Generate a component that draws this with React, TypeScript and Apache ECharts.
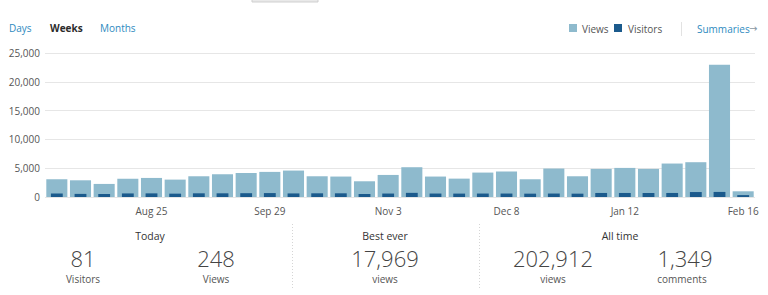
import React, { useEffect, useRef } from "react";
import * as echarts from "echarts";

const weeks = [
  "Jul 28", "Aug 4", "Aug 11", "Aug 18", "Aug 25", "Sep 1", "Sep 8", "Sep 15", "Sep 22", "Sep 29",
  "Oct 6", "Oct 13", "Oct 20", "Oct 27", "Nov 3", "Nov 10", "Nov 17", "Nov 24", "Dec 1", "Dec 8",
  "Dec 15", "Dec 22", "Dec 29", "Jan 5", "Jan 12", "Jan 19", "Jan 26", "Feb 2", "Feb 9", "Feb 16",
];
const views = [
  3080, 2900, 2270, 3190, 3310, 3020, 3600, 3950, 4180, 4360,
  4590, 3600, 3550, 2730, 3830, 5170, 3550, 3190, 4240, 4410,
  3080, 4940, 3600, 4880, 5050, 4880, 5810, 6040, 22950, 990,
];
const visitors = [
  620, 540, 520, 620, 630, 580, 640, 640, 660, 680,
  620, 640, 640, 520, 600, 720, 600, 590, 600, 600,
  580, 600, 580, 700, 700, 690, 700, 860, 880, 330,
];
const yTicks = { min: 0, max: 25000, interval: 5000 };
const periodTabs = ["Days", "Weeks", "Months"];
const statsToday = { title: "Today", visitors: "81", views: "248" };
const statsBest = { title: "Best ever", views: "17,969" };
const statsAll = { title: "All time", views: "202,912", comments: "1,349" };

const FONT = "'Open Sans', 'Noto Sans', sans-serif";
const LIGHT = "#8ebacd";
const DARK = "#1b5a8c";
const LINK = "#2e8ac0";
const TXT = "#555";

export default function App() {
  const ref = useRef<HTMLDivElement>(null);
  useEffect(() => {
    if (!ref.current) return;
    const chart = echarts.init(ref.current, null, { renderer: "svg" });
    const t = (text: string, x: number, y: number, size: number, color: string, extra: any = {}) => ({
      type: "text",
      x,
      y,
      style: {
        text,
        fontSize: size,
        fontFamily: extra.font || FONT,
        fill: color,
        textAlign: extra.align || "center",
        textVerticalAlign: "middle",
        fontWeight: extra.weight || "normal",
      },
    });
    chart.setOption({
      animation: false,
      grid: { left: 45, right: 13, top: 53, bottom: 98 },
      xAxis: [
        {
          type: "category",
          data: weeks,
          axisLine: { show: false },
          axisTick: { show: false },
          axisLabel: {
            interval: (i: number) => (i - 4) % 5 === 0,
            color: TXT,
            fontSize: 10,
            fontFamily: FONT,
            margin: 9,
          },
        },
        { type: "category", data: weeks, show: false },
      ],
      yAxis: {
        type: "value",
        min: yTicks.min,
        max: yTicks.max,
        interval: yTicks.interval,
        axisLine: { show: false },
        axisTick: { show: false },
        splitLine: { lineStyle: { color: "#e6e6e6", width: 1 } },
        axisLabel: {
          color: TXT,
          fontSize: 10,
          fontFamily: FONT,
          margin: 5,
          formatter: (v: number) => v.toLocaleString("en-US"),
        },
      },
      series: [
        {
          name: "Views",
          type: "bar",
          xAxisIndex: 0,
          data: views,
          barWidth: "89%",
          itemStyle: { color: LIGHT },
        },
        {
          name: "Visitors",
          type: "bar",
          xAxisIndex: 1,
          data: visitors,
          barWidth: "50%",
          itemStyle: { color: DARK },
          z: 3,
        },
      ],
      graphic: [
        { type: "rect", shape: { x: 252, y: -2, width: 66, height: 4 }, style: { fill: "#e9e9e9", stroke: "#cfcfcf", lineWidth: 1 } },
        t(periodTabs[0], 9, 28, 10, LINK, { align: "left" }),
        t(periodTabs[1], 50, 28, 10, "#2c2c2c", { align: "left", weight: "bold" }),
        t(periodTabs[2], 100, 28, 10, LINK, { align: "left" }),
        { type: "rect", shape: { x: 569, y: 24, width: 8, height: 8 }, style: { fill: LIGHT } },
        t("Views", 582, 28.5, 10, TXT, { align: "left" }),
        { type: "rect", shape: { x: 614, y: 24, width: 8, height: 8 }, style: { fill: DARK } },
        t("Visitors", 628, 28.5, 10, TXT, { align: "left" }),
        { type: "line", shape: { x1: 681.5, y1: 22, x2: 681.5, y2: 36 }, style: { stroke: "#e2e2e2", lineWidth: 1 } },
        t("Summaries", 697, 28.5, 10, LINK, { align: "left" }),
        t("→", 749, 28.5, 10, "#8a98a3", { align: "left", font: "'DejaVu Sans', sans-serif" }),
        // stats
        t(statsToday.title, 150, 236, 10.5, "#333"),
        t(statsToday.visitors, 83, 258, 22, "#444", { weight: 300 }),
        t("Visitors", 83, 278.5, 10, TXT),
        t(statsToday.views, 216, 258, 22, "#444", { weight: 300 }),
        t("Views", 216, 278.5, 10, TXT),
        { type: "line", shape: { x1: 292.5, y1: 224, x2: 292.5, y2: 288 }, style: { stroke: "#d5d5d5", lineWidth: 1, lineDash: [1, 2] } },
        t(statsBest.title, 385, 236, 10.5, "#333"),
        t(statsBest.views, 385, 258, 22, "#444", { weight: 300 }),
        t("views", 385, 278.5, 10, TXT),
        { type: "line", shape: { x1: 479.5, y1: 224, x2: 479.5, y2: 288 }, style: { stroke: "#d5d5d5", lineWidth: 1, lineDash: [1, 2] } },
        t(statsAll.title, 620, 236, 10.5, "#333"),
        t(statsAll.views, 553, 258, 22, "#444", { weight: 300 }),
        t("views", 553, 278.5, 10, TXT),
        t(statsAll.comments, 685, 258, 22, "#444", { weight: 300 }),
        t("comments", 682, 278.5, 10, TXT),
      ],
    });
    return () => chart.dispose();
  }, []);
  return (
    <div
      ref={ref}
      style={{ position: "fixed", left: 0, top: 0, width: 768, height: 295, background: "#fff" }}
    />
  );
}
